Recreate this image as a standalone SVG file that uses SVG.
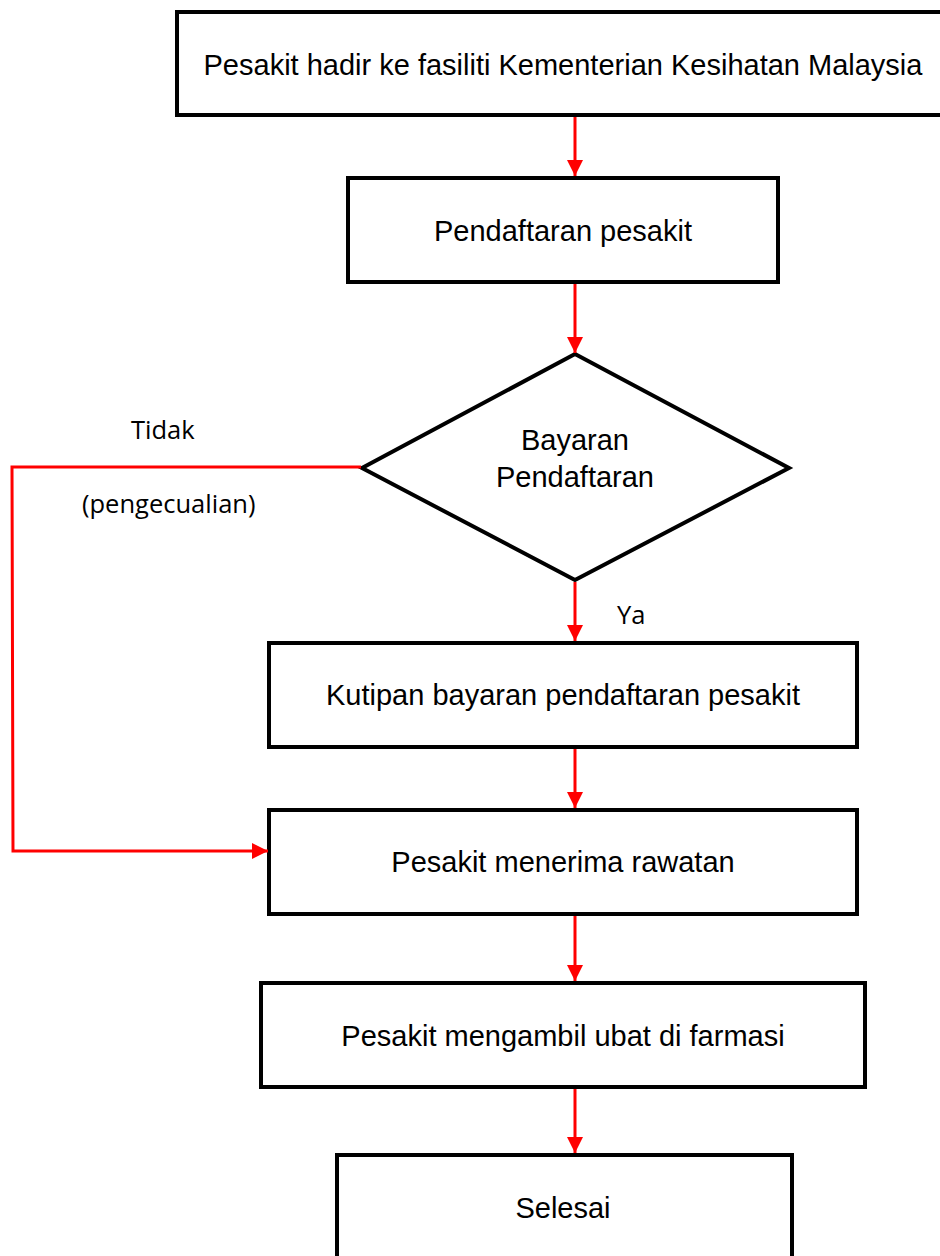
<svg xmlns="http://www.w3.org/2000/svg" width="940" height="1256" viewBox="0 0 940 1256">
<style>
.box{fill:#fff;stroke:#000;stroke-width:4}
.t{font-family:"Liberation Sans",Arial,sans-serif;font-size:29px;fill:#000;text-anchor:middle}
.lbl{font-family:"Open Sans","Noto Sans",sans-serif;font-size:25.5px;fill:#000}
.c{fill:none;stroke:#ff0000;stroke-width:3}
</style>
<defs>
<marker id="ah" markerUnits="userSpaceOnUse" markerWidth="18" markerHeight="18" refX="16" refY="9" orient="auto">
<path d="M0,1 L16,9 L0,17 Z" fill="#ff0000"/>
</marker>
</defs>
<rect width="940" height="1256" fill="#fff"/>
<g id="n1"><rect class="box" x="177" y="12" width="780" height="103"/><text class="t" x="563" y="75">Pesakit hadir ke fasiliti Kementerian Kesihatan Malaysia</text></g>
<g id="n2"><rect class="box" x="348" y="178" width="430" height="104"/><text class="t" x="563" y="241">Pendaftaran pesakit</text></g>
<g id="n3"><polygon class="box" points="575,354 789,468 575,580 362,468"/><text class="t" x="575" y="450">Bayaran</text><text class="t" x="575" y="487">Pendaftaran</text></g>
<g id="n4"><rect class="box" x="269" y="643" width="588" height="104"/><text class="t" x="563" y="705">Kutipan bayaran pendaftaran pesakit</text></g>
<g id="n5"><rect class="box" x="269" y="810" width="588" height="104"/><text class="t" x="563" y="872">Pesakit menerima rawatan</text></g>
<g id="n6"><rect class="box" x="261" y="983" width="604" height="104"/><text class="t" x="563" y="1046">Pesakit mengambil ubat di farmasi</text></g>
<g id="n7"><rect class="box" x="337" y="1155" width="455" height="120"/><text class="t" x="563" y="1218">Selesai</text></g>
<g id="connectors">
<line class="c" x1="575" y1="117" x2="575" y2="176" marker-end="url(#ah)"/>
<line class="c" x1="575" y1="284" x2="575" y2="353" marker-end="url(#ah)"/>
<line class="c" x1="575" y1="582" x2="575" y2="641" marker-end="url(#ah)"/>
<line class="c" x1="575" y1="749" x2="575" y2="808" marker-end="url(#ah)"/>
<line class="c" x1="575" y1="916" x2="575" y2="981" marker-end="url(#ah)"/>
<line class="c" x1="575" y1="1089" x2="575" y2="1153" marker-end="url(#ah)"/>
<polyline class="c" points="361,467 12,467 13,851 268,851" marker-end="url(#ah)"/>
</g>
<g id="labels">
<text class="lbl" x="131" y="439">Tidak</text>
<text class="lbl" x="82" y="513">(pengecualian)</text>
<text class="lbl" x="617" y="624">Ya</text>
</g>
</svg>
